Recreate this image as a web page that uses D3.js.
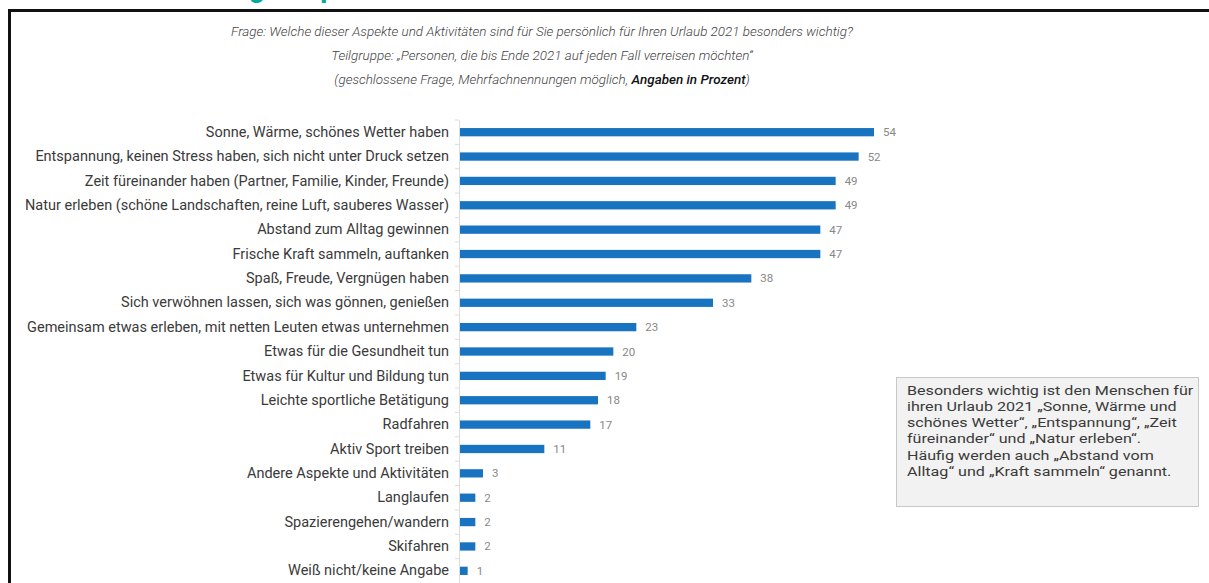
<!DOCTYPE html>
<html><head><meta charset="utf-8">
<script src="https://cdn.jsdelivr.net/npm/d3@7"></script>
<style>body{margin:0;background:#fff;font-family:Roboto,"Noto Sans",sans-serif;}</style>
</head><body>
<svg id="c" width="1209" height="583"></svg>
<script>
const categories = [
  "Sonne, Wärme, schönes Wetter haben",
  "Entspannung, keinen Stress haben, sich nicht unter Druck setzen",
  "Zeit füreinander haben (Partner, Familie, Kinder, Freunde)",
  "Natur erleben (schöne Landschaften, reine Luft, sauberes Wasser)",
  "Abstand zum Alltag gewinnen",
  "Frische Kraft sammeln, auftanken",
  "Spaß, Freude, Vergnügen haben",
  "Sich verwöhnen lassen, sich was gönnen, genießen",
  "Gemeinsam etwas erleben, mit netten Leuten etwas unternehmen",
  "Etwas für die Gesundheit tun",
  "Etwas für Kultur und Bildung tun",
  "Leichte sportliche Betätigung",
  "Radfahren",
  "Aktiv Sport treiben",
  "Andere Aspekte und Aktivitäten",
  "Langlaufen",
  "Spazierengehen/wandern",
  "Skifahren",
  "Weiß nicht/keine Angabe"
];
const values = [54,52,49,49,47,47,38,33,23,20,19,18,17,11,3,2,2,2,1];
const titleText = "Wichtige Aspekte";
const subtitleLines = [
  "Frage: Welche dieser Aspekte und Aktivitäten sind für Sie persönlich für Ihren Urlaub 2021 besonders wichtig?",
  "Teilgruppe: „Personen, die bis Ende 2021 auf jeden Fall verreisen möchten“"
];
const subtitle3a = "(geschlossene Frage, Mehrfachnennungen möglich, ";
const subtitle3b = "Angaben in Prozent";
const noteLines = [
  "Besonders wichtig ist den Menschen für",
  "ihren Urlaub 2021 „Sonne, Wärme und",
  "schönes Wetter“, „Entspannung“, „Zeit",
  "füreinander“ und „Natur erleben“.",
  "Häufig werden auch „Abstand vom",
  "Alltag“ und „Kraft sammeln“ genannt."
];

const svg = d3.select("#c");

// cut-off title above frame
svg.append("text").attr("x", 170).attr("y", -3)
  .attr("font-size", 28).attr("font-weight", 700).attr("fill", "#00a99d")
  .text(titleText);

// frame
svg.append("rect").attr("x", 9.5).attr("y", 10.5).attr("width", 1230).attr("height", 600)
  .attr("fill", "none").attr("stroke", "#111").attr("stroke-width", 3);

// subtitles
const sub = svg.append("g").attr("transform", "translate(542,0) scale(1.12,1)")
  .attr("font-style", "italic").attr("font-weight", 300)
  .attr("font-size", 12).attr("fill", "#444").attr("text-anchor", "middle");
subtitleLines.forEach((t, i) => sub.append("text").attr("x", 0).attr("y", 36 + i * 24).text(t));
const t3 = sub.append("text").attr("x", 0).attr("y", 84);
t3.append("tspan").text(subtitle3a);
t3.append("tspan").attr("font-weight", 500).attr("fill", "#111").text(subtitle3b);
t3.append("tspan").text(")");

// scales
const x = d3.scaleLinear().domain([0, 54]).range([460, 874]);
const y = d3.scaleBand().domain(categories).range([120, 583]).paddingInner(0.66).paddingOuter(0.33);

// axis
const axis = d3.axisLeft(y).tickSize(0).tickPadding(10);
const gA = svg.append("g").attr("transform", "translate(459,0)").call(axis);
gA.select(".domain").attr("stroke", "#ddd");
gA.selectAll(".tick text").attr("font-family", "Roboto").attr("font-size", 14.5).attr("fill", "#3a3a3a");
// small ticks between rows
const step = y.step();
svg.append("g").selectAll("line").data(categories).join("line")
  .attr("x1", 455).attr("x2", 459)
  .attr("y1", d => y(d) - y.paddingInner() * step / 2)
  .attr("y2", d => y(d) - y.paddingInner() * step / 2)
  .attr("stroke", "#ddd");

// bars
svg.append("g").selectAll("rect").data(values).join("rect")
  .attr("x", x(0)).attr("y", (d, i) => y(categories[i]))
  .attr("width", d => x(d) - x(0)).attr("height", y.bandwidth())
  .attr("fill", "#1874c1");

// value labels
svg.append("g").selectAll("text").data(values).join("text")
  .attr("x", d => x(d) + 9).attr("y", (d, i) => y(categories[i]) + y.bandwidth() / 2)
  .attr("dy", "0.35em").attr("font-size", 11.5).attr("fill", "#888").text(d => d);

// note box
svg.append("rect").attr("x", 896.5).attr("y", 377.5).attr("width", 302).attr("height", 129)
  .attr("fill", "#f2f2f2").attr("stroke", "#c8c8c8");
const noteY = [395, 411, 427, 443, 460, 476];
svg.append("g").attr("transform", "translate(907,0) scale(1.24,1)")
  .selectAll("text").data(noteLines).join("text")
  .attr("x", 0).attr("y", (d, i) => noteY[i])
  .attr("font-size", 13).attr("fill", "#3a3a3a").text(d => d);
</script>
</body></html>
